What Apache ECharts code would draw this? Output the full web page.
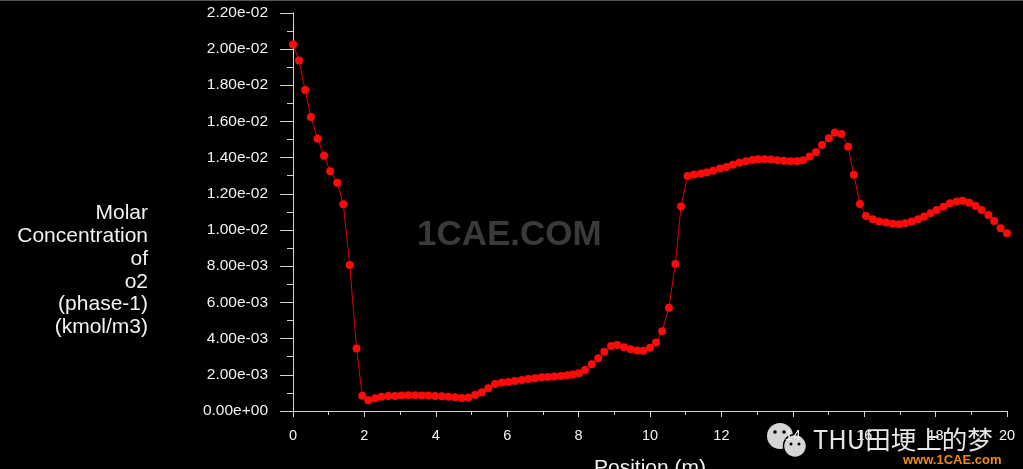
<!DOCTYPE html>
<html>
<head>
<meta charset="utf-8">
<script src="https://cdn.jsdelivr.net/npm/echarts@6/dist/echarts.min.js"></script>
<style>
html,body{margin:0;padding:0;background:#000;}
#chart{width:1023px;height:469px;}
</style>
</head>
<body>
<div id="chart"></div>
<script>
// Position along the line (m)
const positions = [
  0.00, 0.17, 0.34, 0.50, 0.69, 0.87, 1.04, 1.24, 1.41, 1.59, 1.78, 1.94,
  2.11, 2.30, 2.48, 2.67, 2.86, 3.04, 3.23, 3.42, 3.61, 3.79, 3.98, 4.17,
  4.35, 4.54, 4.73, 4.91, 5.10, 5.29, 5.47, 5.66, 5.85, 6.03, 6.22, 6.41,
  6.59, 6.78, 6.97, 7.14, 7.32, 7.51, 7.68, 7.84, 8.01, 8.18, 8.37, 8.55,
  8.72, 8.91, 9.08, 9.27, 9.46, 9.64, 9.81, 10.00, 10.17, 10.34, 10.53, 10.71,
  10.87, 11.05, 11.23, 11.43, 11.59, 11.77, 11.96, 12.14, 12.32, 12.50, 12.69, 12.87,
  13.03, 13.21, 13.39, 13.57, 13.75, 13.94, 14.12, 14.29, 14.47, 14.65, 14.82, 15.01,
  15.18, 15.36, 15.55, 15.71, 15.88, 16.05, 16.24, 16.42, 16.61, 16.80, 16.98, 17.15,
  17.33, 17.51, 17.68, 17.86, 18.03, 18.22, 18.40, 18.59, 18.76, 18.94, 19.12, 19.29,
  19.48, 19.64, 19.82, 20.00
];
// Molar concentration of o2 (phase-1) (kmol/m3)
const concentration = [
  0.02025, 0.01937, 0.01774, 0.01624, 0.01504, 0.01410, 0.01325, 0.01261, 0.01142, 0.00807, 0.00345, 0.00084,
  0.00060, 0.00070, 0.00079, 0.00083, 0.00083, 0.00086, 0.00087, 0.00087, 0.00086, 0.00085, 0.00083, 0.00082,
  0.00079, 0.00076, 0.00072, 0.00075, 0.00088, 0.00103, 0.00126, 0.00149, 0.00157, 0.00160, 0.00166, 0.00171,
  0.00177, 0.00181, 0.00186, 0.00188, 0.00191, 0.00194, 0.00197, 0.00201, 0.00208, 0.00227, 0.00258, 0.00291,
  0.00328, 0.00359, 0.00365, 0.00352, 0.00341, 0.00334, 0.00333, 0.00350, 0.00378, 0.00440, 0.00571, 0.00812,
  0.01130, 0.01299, 0.01307, 0.01312, 0.01318, 0.01328, 0.01340, 0.01348, 0.01360, 0.01371, 0.01380, 0.01387,
  0.01391, 0.01391, 0.01389, 0.01386, 0.01383, 0.01380, 0.01380, 0.01385, 0.01406, 0.01429, 0.01470, 0.01507,
  0.01538, 0.01531, 0.01460, 0.01305, 0.01144, 0.01078, 0.01060, 0.01047, 0.01041, 0.01034, 0.01032, 0.01037,
  0.01047, 0.01060, 0.01074, 0.01092, 0.01111, 0.01129, 0.01148, 0.01157, 0.01161, 0.01151, 0.01133, 0.01111,
  0.01083, 0.01050, 0.01010, 0.00982
];
const xTicks = [0, 2, 4, 6, 8, 10, 12, 14, 16, 18, 20];
const yTicks = [0, 0.002, 0.004, 0.006, 0.008, 0.010, 0.012, 0.014, 0.016, 0.018, 0.020, 0.022];
const yTitleLines = ['Molar', 'Concentration', 'of', 'o2', '(phase-1)', '(kmol/m3)'];
const xTitle = 'Position (m)';

function fmtExp(v) {
  const s = Number(v).toExponential(2);
  const m = s.split('e');
  let e = parseInt(m[1], 10);
  const sign = e < 0 ? '-' : '+';
  e = Math.abs(e);
  return m[0] + 'e' + sign + (e < 10 ? '0' + e : '' + e);
}

const chart = echarts.init(document.getElementById('chart'), null, {renderer: 'canvas'});
const axisColor = '#d4d4d4';
const font = 'Liberation Sans, Arial, sans-serif';

chart.setOption({
  backgroundColor: '#000000',
  animation: false,
  grid: {left: 293, right: 16, top: 12.8, bottom: 58, containLabel: false, outerBoundsMode: 'none'},
  xAxis: {
    type: 'value',
    min: xTicks[0],
    max: xTicks[xTicks.length - 1],
    interval: 2,
    name: xTitle,
    nameLocation: 'middle',
    nameGap: 47,
    nameTextStyle: {color: '#f2f2f2', fontSize: 21, fontFamily: font, verticalAlign: 'top'},
    axisLine: {lineStyle: {color: axisColor, width: 1}},
    axisTick: {show: true, inside: false, length: 6, lineStyle: {color: axisColor}},
    minorTick: {show: true, splitNumber: 2, length: 4, lineStyle: {color: axisColor}},
    splitLine: {show: false},
    axisLabel: {color: '#f2f2f2', fontSize: 14.5, fontFamily: font, margin: 17}
  },
  yAxis: {
    type: 'value',
    min: yTicks[0],
    max: yTicks[yTicks.length - 1],
    interval: 0.002,
    axisLine: {show: true, lineStyle: {color: axisColor, width: 1}},
    axisTick: {show: true, inside: false, length: 13, lineStyle: {color: axisColor}},
    minorTick: {show: true, splitNumber: 2, length: 6, lineStyle: {color: axisColor}},
    splitLine: {show: false},
    axisLabel: {color: '#f2f2f2', fontSize: 15.5, fontFamily: font, margin: 25, formatter: fmtExp}
  },
  graphic: [
    {type: 'rect', left: 0, top: 0, shape: {width: 1023, height: 1}, style: {fill: '#555555'}, silent: true},
    {
      type: 'text', x: 148, y: 202,
      style: {
        text: yTitleLines.join('\n'), fill: '#f2f2f2', font: '21px ' + font,
        align: 'right', verticalAlign: 'top', lineHeight: 22.8
      }, silent: true
    },
    {
      type: 'text', left: 417, top: 218,
      style: {text: '1CAE.COM', fill: '#3a3a3a', font: 'bold 35px ' + font}, silent: true, z: -1
    },
    {type: 'circle', shape: {cx: 780, cy: 436, r: 13}, style: {fill: '#d6d6d6'}, silent: true},
    {type: 'circle', shape: {cx: 795, cy: 446, r: 11.5}, style: {fill: '#d6d6d6', stroke: '#000', lineWidth: 1.5}, silent: true},
    {type: 'circle', shape: {cx: 775, cy: 432, r: 1.8}, style: {fill: '#000'}, silent: true},
    {type: 'circle', shape: {cx: 784, cy: 432, r: 1.8}, style: {fill: '#000'}, silent: true},
    {type: 'circle', shape: {cx: 791, cy: 444, r: 1.5}, style: {fill: '#000'}, silent: true},
    {type: 'circle', shape: {cx: 799, cy: 444, r: 1.5}, style: {fill: '#000'}, silent: true},
    {
      type: 'text', left: 813, top: 427,
      style: {text: 'THU田埂上的梦', fill: '#e6e6e6', font: '25.5px "Noto Sans CJK SC", ' + font}, silent: true, z: 100
    },
    {
      type: 'text', left: 903, top: 454,
      style: {text: 'www.1CAE.com', fill: '#ee8a10', font: 'bold 13px ' + font}, silent: true, z: 100
    }
  ],
  series: [{
    type: 'line',
    data: positions.map((x, i) => [x, concentration[i]]),
    symbol: 'circle',
    symbolSize: 8,
    showSymbol: true,
    itemStyle: {color: '#ff0a0a'},
    lineStyle: {color: '#e00000', width: 1},
    z: 3
  }]
});
</script>
</body>
</html>
